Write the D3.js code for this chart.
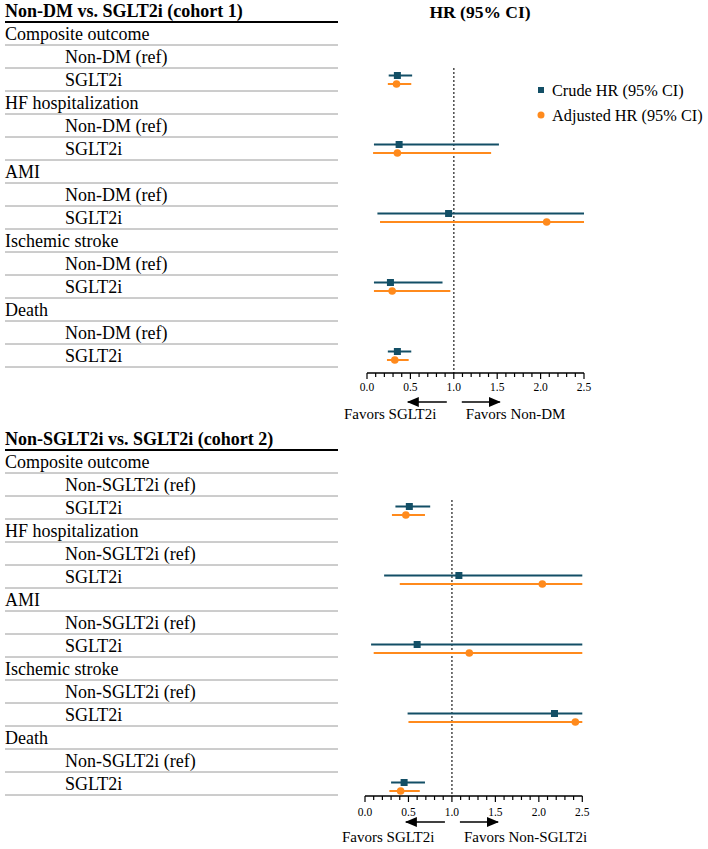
<!DOCTYPE html>
<html><head><meta charset="utf-8">
<script src="https://cdn.jsdelivr.net/npm/d3@7"></script>
<style>body{margin:0;background:#fff}svg{display:block}</style>
</head><body>
<script>
// ---- data ----
const outcomes = ["Composite outcome","HF hospitalization","AMI","Ischemic stroke","Death"];
const panelTitles = ["Non-DM vs. SGLT2i (cohort 1)","Non-SGLT2i vs. SGLT2i (cohort 2)"];
const refLabels = ["Non-DM (ref)","Non-SGLT2i (ref)"];
const treatLabel = "SGLT2i";
const favorLeft = ["Favors SGLT2i","Favors SGLT2i"];
const favorRight = ["Favors Non-DM","Favors Non-SGLT2i"];
const tickValues = [0.0,0.5,1.0,1.5,2.0,2.5];
const legendLabels = ["Crude HR (95% CI)","Adjusted HR (95% CI)"];

// cohort 1
const crude1HR = [0.35, 0.37, 0.94, 0.27, 0.35];
const crude1Lo = [0.25, 0.08, 0.12, 0.08, 0.24];
const crude1Hi = [0.52, 1.52, 7.40, 0.87, 0.51];
const adj1HR   = [0.34, 0.35, 2.07, 0.29, 0.32];
const adj1Lo   = [0.24, 0.07, 0.15, 0.08, 0.23];
const adj1Hi   = [0.51, 1.43, 28.0, 0.96, 0.48];
// cohort 2
const crude2HR = [0.51, 1.08, 0.60, 2.18, 0.45];
const crude2Lo = [0.35, 0.22, 0.07, 0.49, 0.30];
const crude2Hi = [0.75, 5.30, 5.20, 9.70, 0.69];
const adj2HR   = [0.47, 2.04, 1.20, 2.42, 0.41];
const adj2Lo   = [0.31, 0.40, 0.10, 0.50, 0.28];
const adj2Hi   = [0.69, 10.4, 14.6, 11.7, 0.63];

const cohorts = [
  {crude:{hr:crude1HR,lo:crude1Lo,hi:crude1Hi}, adj:{hr:adj1HR,lo:adj1Lo,hi:adj1Hi}},
  {crude:{hr:crude2HR,lo:crude2Lo,hi:crude2Hi}, adj:{hr:adj2HR,lo:adj2Lo,hi:adj2Hi}}
];

// ---- layout ----
const W = 708, H = 849;
const FONT = "'Liberation Serif','Times New Roman',serif";
const CRUDE = "#134f66", ADJ = "#ff8a1c";
const svg = d3.select("body").append("svg").attr("width",W).attr("height",H)
  .style("font-family",FONT);

const panels = [
  {top:22, rowH:23, x0:367, x1:584, axisY:373, dotTop:68, cOff:-4, aOff:4.5,
   tickY:391, arrowY:402, favY:419},
  {top:450, rowH:23, x0:365, x1:582.3, axisY:796, dotTop:500, cOff:-1, aOff:7.5,
   tickY:816, arrowY:822, favY:842}
];

const defs = svg.append("defs");
defs.append("marker").attr("id","ah").attr("viewBox","0 0 12 10")
  .attr("refX",11).attr("refY",5).attr("markerWidth",12).attr("markerHeight",10)
  .attr("markerUnits","userSpaceOnUse").attr("orient","auto")
  .append("path").attr("d","M0,0L12,5L0,10Z").attr("fill","#000");

panels.forEach((p,pi)=>{
  const g = svg.append("g");
  const data = cohorts[pi];
  const rows = [];
  outcomes.forEach((o,i)=>{
    rows.push({label:o, indent:false});
    rows.push({label:refLabels[pi], indent:true});
    rows.push({label:treatLabel, indent:true, idx:i});
  });
  g.append("text").attr("x",5).attr("y",p.top-5).attr("font-size",18)
    .attr("font-weight","bold").text(panelTitles[pi]);
  g.append("line").attr("x1",5).attr("x2",338).attr("y1",p.top).attr("y2",p.top)
    .attr("stroke","#000").attr("stroke-width",2);
  rows.forEach((r,k)=>{
    const yb = p.top + (k+1)*p.rowH;
    g.append("text").attr("x", r.indent?65:5).attr("y", yb-5).attr("font-size",18)
      .attr("fill","#000").text(r.label);
    g.append("line").attr("x1",5).attr("x2",338).attr("y1",yb).attr("y2",yb)
      .attr("stroke","#9a9a9a").attr("stroke-width",1);
  });

  const x = d3.scaleLinear().domain([0,2.5]).range([p.x0,p.x1]).clamp(true);

  g.append("line").attr("x1",x(1)).attr("x2",x(1)).attr("y1",p.dotTop).attr("y2",p.axisY)
    .attr("stroke","#555").attr("stroke-width",1.6).attr("stroke-dasharray","2,2");

  const ax = g.append("g").attr("transform",`translate(0,${p.axisY})`);
  ax.append("line").attr("x1",x(0)).attr("x2",x(2.5)).attr("stroke","#000").attr("stroke-width",1.5);
  const minor = d3.range(0,26).map(d=>d/10);
  ax.selectAll("line.t").data(minor).join("line").attr("class","t")
    .attr("x1",d=>x(d)).attr("x2",d=>x(d)).attr("y1",0)
    .attr("y2",(d,i)=> i%5===0?6:4).attr("stroke","#000").attr("stroke-width",1.2);
  g.selectAll("text.tl").data(tickValues).join("text").attr("class","tl")
    .attr("x",d=>x(d)).attr("y",p.tickY).attr("text-anchor","middle")
    .attr("font-size",11.5).text(d=>d3.format(".1f")(d));

  g.append("line").attr("x1",x(1)-7).attr("x2",x(0.47)).attr("y1",p.arrowY).attr("y2",p.arrowY)
    .attr("stroke","#000").attr("stroke-width",1.3).attr("marker-end","url(#ah)");
  g.append("line").attr("x1",x(1)+8).attr("x2",x(1.53)).attr("y1",p.arrowY).attr("y2",p.arrowY)
    .attr("stroke","#000").attr("stroke-width",1.3).attr("marker-end","url(#ah)");
  g.append("text").attr("x",x(0)-23).attr("y",p.favY).attr("font-size",15).text(favorLeft[pi]);
  g.append("text").attr("x",x(1)+12).attr("y",p.favY).attr("font-size",15).text(favorRight[pi]);

  const rowCenter = i => p.top + (i*3+2.5)*p.rowH;
  outcomes.forEach((o,i)=>{
    const yc = rowCenter(i)+p.cOff, ya = rowCenter(i)+p.aOff;
    g.append("line").attr("x1",x(data.crude.lo[i])).attr("x2",x(data.crude.hi[i]))
      .attr("y1",yc).attr("y2",yc).attr("stroke",CRUDE).attr("stroke-width",2);
    g.append("rect").attr("x",x(data.crude.hr[i])-3.5).attr("y",yc-3.5)
      .attr("width",7).attr("height",7).attr("fill",CRUDE);
    g.append("line").attr("x1",x(data.adj.lo[i])).attr("x2",x(data.adj.hi[i]))
      .attr("y1",ya).attr("y2",ya).attr("stroke",ADJ).attr("stroke-width",2);
    g.append("circle").attr("cx",x(data.adj.hr[i])).attr("cy",ya).attr("r",3.8).attr("fill",ADJ);
  });
});

svg.append("text").attr("x",480).attr("y",18).attr("text-anchor","middle")
  .attr("font-size",17.5).attr("font-weight","bold").text("HR (95% CI)");

const lg = svg.append("g");
lg.append("rect").attr("x",538).attr("y",87).attr("width",6).attr("height",6).attr("fill",CRUDE);
lg.append("text").attr("x",552).attr("y",95.5).attr("font-size",16.3).text(legendLabels[0]);
lg.append("circle").attr("cx",541).attr("cy",115).attr("r",3.5).attr("fill",ADJ);
lg.append("text").attr("x",552).attr("y",120.5).attr("font-size",16.3).text(legendLabels[1]);
</script>
</body></html>
